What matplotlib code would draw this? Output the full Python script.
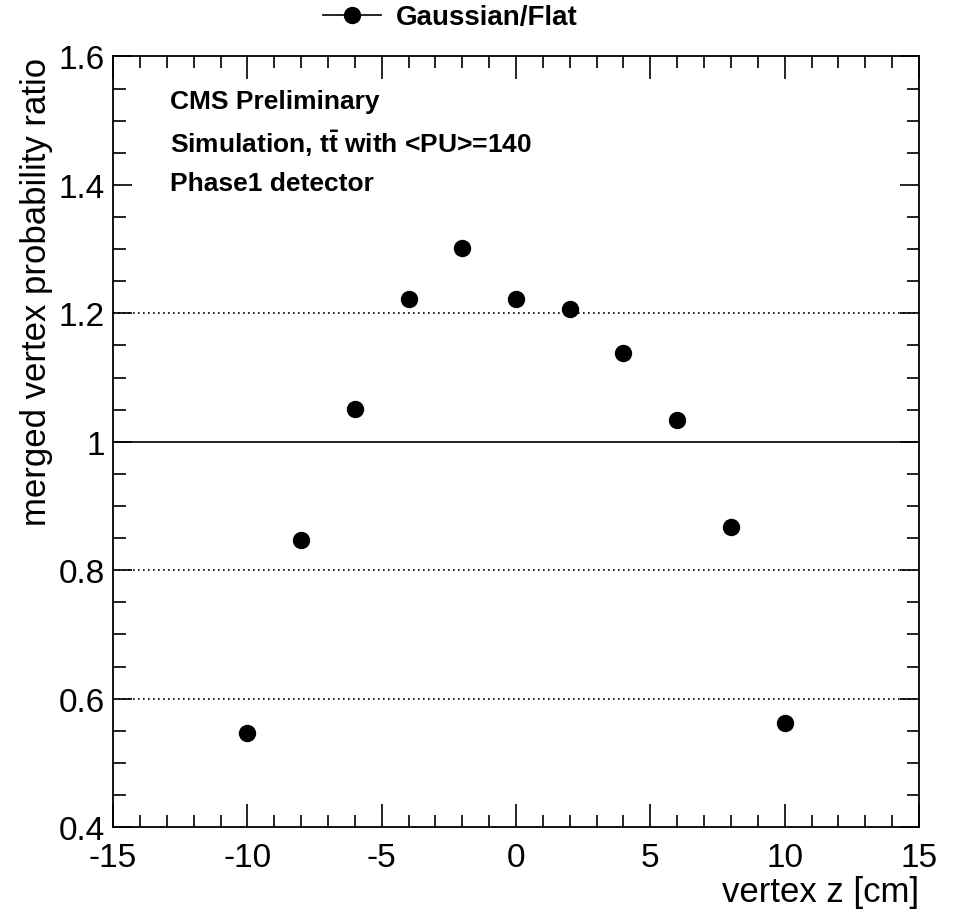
import matplotlib.pyplot as plt
from matplotlib.ticker import MultipleLocator

plt.rcParams['font.family'] = ['Liberation Sans', 'DejaVu Sans']
plt.rcParams['mathtext.fontset'] = 'custom'
plt.rcParams['mathtext.bf'] = 'Liberation Sans:bold'
plt.rcParams['mathtext.rm'] = 'Liberation Sans'
plt.rcParams['axes.unicode_minus'] = False

# data
vertex_z = [-10, -8, -6, -4, -2, 0, 2, 4, 6, 8, 10]
ratio = [0.546, 0.847, 1.051, 1.223, 1.302, 1.223, 1.207, 1.138, 1.034, 0.868, 0.562]
dotted_levels = [0.6, 0.8, 1.2]
unity_level = 1.0
y_ticks = [0.4, 0.6, 0.8, 1.0, 1.2, 1.4, 1.6]
y_tick_labels = ['0.4', '0.6', '0.8', '1', '1.2', '1.4', '1.6']
series_label = 'Gaussian/Flat'
info_lines = ['CMS Preliminary',
              r'Simulation, $\mathbf{t\bar{t}}$ with <PU>=140',
              'Phase1 detector']

fig = plt.figure(figsize=(9.54, 9.12), dpi=100)
ax = fig.add_axes([0.1185, 0.092, 0.8448, 0.845])

for lvl in dotted_levels:
    ax.axhline(lvl, color='black', linestyle=(0, (1, 2)), linewidth=1.2, zorder=1)
ax.axhline(unity_level, color='black', linestyle='-', linewidth=1.2, zorder=1)

ax.plot(vertex_z, ratio, linestyle='none', marker='o', markersize=11.5,
        color='black', zorder=3)

ax.set_xlim(-15, 15)
ax.set_ylim(0.4, 1.6)
ax.xaxis.set_major_locator(MultipleLocator(5))
ax.xaxis.set_minor_locator(MultipleLocator(1))
ax.yaxis.set_minor_locator(MultipleLocator(0.05))
ax.set_yticks(y_ticks)
ax.set_yticklabels(y_tick_labels)

ax.tick_params(which='both', direction='in', top=True, right=True,
               labelsize=24, width=1.2)
ax.tick_params(axis='x', which='major', length=16.5, pad=11)
ax.tick_params(axis='x', which='minor', length=8.5)
ax.tick_params(axis='y', which='major', length=14, pad=6)
ax.tick_params(axis='y', which='minor', length=9)
for sp in ax.spines.values():
    sp.set_linewidth(1.3)

ax.set_xlabel('vertex z [cm]', fontsize=25, loc='right', labelpad=1)
ax.set_ylabel('merged vertex probability ratio', fontsize=25, loc='top', labelpad=4)

ys = [0.9416, 0.888, 0.836]
for txt, yy in zip(info_lines, ys):
    ax.text(0.0707, yy, txt, transform=ax.transAxes, fontsize=19,
            fontweight='bold', ha='left', va='center')

handle, = ax.plot([], [], color='black', marker='o', markersize=11.5, linewidth=1.2)
fig.legend([handle], [series_label], loc='center', bbox_to_anchor=(0.472, 0.98),
           frameon=False, prop={'weight': 'bold', 'size': 20},
           handlelength=2.1, handletextpad=0.55)

fig.savefig('out.png', dpi=100)
